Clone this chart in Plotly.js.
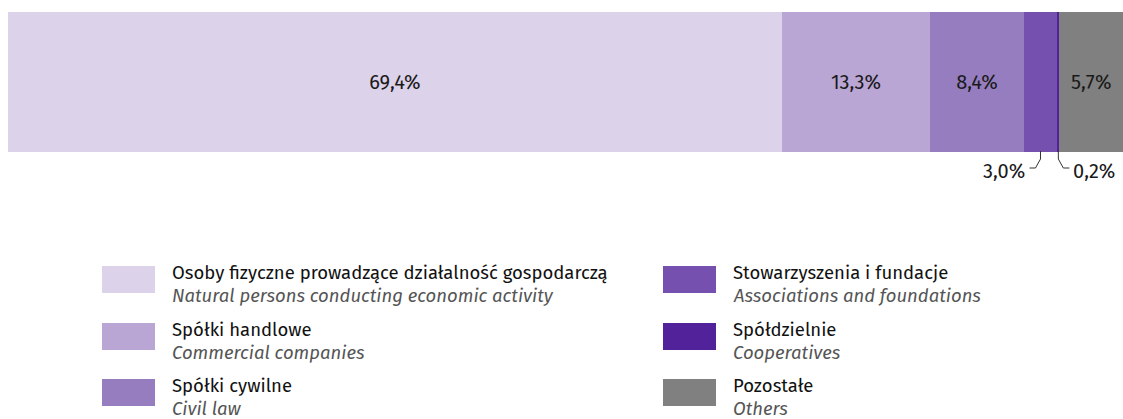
<!DOCTYPE html>
<html>
<head>
<meta charset="utf-8">
<script src="https://cdn.plot.ly/plotly-3.0.1.min.js"></script>
<style>html,body{margin:0;padding:0;background:#fff;}#chart{width:1123px;height:419px;}</style>
</head>
<body>
<div id="chart"></div>
<script>
// ---- data ----
var categoriesPL = ["Osoby fizyczne prowadzące działalność gospodarczą", "Spółki handlowe", "Spółki cywilne", "Stowarzyszenia i fundacje", "Spółdzielnie", "Pozostałe"];
var categoriesEN = ["Natural persons conducting economic activity", "Commercial companies", "Civil law", "Associations and foundations", "Cooperatives", "Others"];
var shares = [69.4, 13.3, 8.4, 3.0, 0.2, 5.7];
var colors = ["#DCD2EA", "#B9A6D5", "#967DBF", "#7550AE", "#52229A", "#808080"];
var insideLabel = [true, true, true, false, false, true];

var W = 1123, H = 419;
var FONT = "Fira Sans, Roboto, sans-serif";
var LBL = 20, LEG = 18.5;
function fmt(v){ return v.toFixed(1).replace('.', ',') + '%'; }
function px(x){ return x / W; }
function py(y){ return 1 - y / H; }

var traces = shares.map(function(v, i){
  return {
    type: 'bar', orientation: 'h',
    x: [v], y: ['all'],
    name: categoriesPL[i],
    marker: {color: colors[i], line: {width: 0}},
    text: [insideLabel[i] ? fmt(v) : ''],
    textposition: 'inside', insidetextanchor: 'middle',
    textfont: {family: FONT, size: LBL, color: '#1a1a1a'},
    hoverinfo: 'skip', showlegend: false
  };
});

var shapes = [], annotations = [];
var cum = 0;
var sideDir = {3: -1, 4: 1};
shares.forEach(function(v, i){
  var mid = cum + v / 2;
  cum += v;
  if (insideLabel[i]) return;
  var d = sideDir[i];
  var k = 100 / (W - 8);
  var x0 = mid, x1 = mid + d * 5 * k, x2 = mid + d * 11 * k;
  shapes.push({type: 'path', xref: 'x', yref: 'paper',
    path: 'M ' + x0 + ',' + py(151) + ' L ' + x0 + ',' + py(159) + ' L ' + x1 + ',' + py(168) + ' L ' + x2 + ',' + py(168),
    line: {color: '#333', width: 1}});
  annotations.push({xref: 'x', yref: 'paper', x: mid + d * 13 * k, y: py(171),
    text: fmt(v), showarrow: false, xanchor: d < 0 ? 'right' : 'left', yanchor: 'middle',
    font: {family: FONT, size: LBL, color: '#1a1a1a'}});
});

var colX = [102, 663], rowY = [266, 323, 379];
categoriesPL.forEach(function(name, i){
  var c = Math.floor(i / 3), r = i % 3;
  var sx = colX[c], sy = rowY[r];
  shapes.push({type: 'rect', xref: 'paper', yref: 'paper',
    x0: px(sx), x1: px(sx + 53), y0: py(sy), y1: py(sy + 27),
    fillcolor: colors[i], line: {width: 0}});
  annotations.push({xref: 'paper', yref: 'paper', x: px(sx + 68), y: py(sy + 7),
    text: name, showarrow: false, xanchor: 'left', yanchor: 'middle',
    font: {family: FONT, size: LEG, color: '#111'}});
  annotations.push({xref: 'paper', yref: 'paper', x: px(sx + 68), y: py(sy + 30),
    text: '<i>' + categoriesEN[i] + '</i>', showarrow: false, xanchor: 'left', yanchor: 'middle',
    font: {family: FONT, size: LEG, color: '#555'}});
});

var layout = {
  width: W, height: H,
  margin: {l: 0, r: 0, t: 0, b: 0, pad: 0},
  paper_bgcolor: '#fff', plot_bgcolor: '#fff',
  barmode: 'stack', bargap: 0,
  separators: ',.',
  xaxis: {domain: [8 / W, 1], range: [0, 100], visible: false, fixedrange: true},
  yaxis: {domain: [py(152), py(12)], visible: false, fixedrange: true},
  shapes: shapes, annotations: annotations,
  font: {family: FONT}
};

Plotly.newPlot('chart', traces, layout, {staticPlot: true, displayModeBar: false});
</script>
</body>
</html>
